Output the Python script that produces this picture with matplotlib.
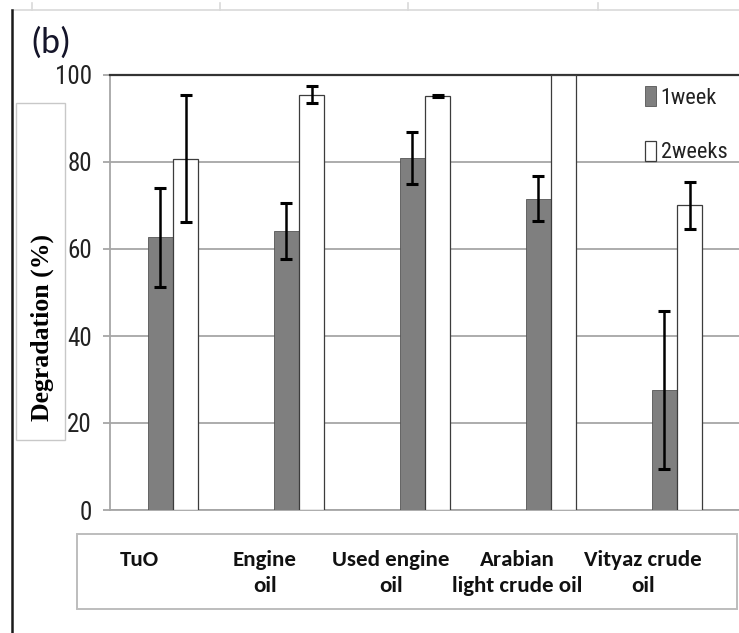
import numpy as np
import matplotlib.pyplot as plt
from matplotlib.patches import Rectangle
from matplotlib.lines import Line2D
import matplotlib.transforms as mtransforms

# degradation after 1 and 2 weeks, mean and error bar half-width (%)
oils = ['TuO', 'Engine\noil', 'Used engine\noil', 'Arabian\nlight crude oil', 'Vityaz crude\noil']
week1 = [62.7, 64.2, 81.0, 71.6, 27.6]
week1_err = [11.4, 6.4, 6.0, 5.2, 18.1]
week2 = [80.8, 95.5, 95.2, 100.0, 70.0]
week2_err = [14.5, 2.0, 0.3, 0.0, 5.5]
yticks = [0, 20, 40, 60, 80, 100]

narrow = ['Roboto Condensed', 'Liberation Sans']

W, H = 739, 633
fig = plt.figure(figsize=(W / 100, H / 100), dpi=100)

def px(x0, y0, w, h):
    # pixel box (top-left origin) -> figure fraction
    return [x0 / W, 1 - (y0 + h) / H, w / W, h / H]

ax = fig.add_axes(px(110, 75, 630, 435))

x = np.arange(len(oils))
bw = 0.2
ax.bar(x - bw / 2, week1, bw, color='#7f7f7f', edgecolor='#555555', linewidth=0.6,
       label='1week', zorder=3)
ax.bar(x + bw / 2, week2, bw, color='white', edgecolor='#3c3c3c', linewidth=0.9,
       label='2weeks', zorder=3)

# error bars only where a spread was measured
for xs, ys, es in [(x - bw / 2, week1, week1_err), (x + bw / 2, week2, week2_err)]:
    keep = np.array(es) > 0
    ax.errorbar(np.array(xs)[keep], np.array(ys)[keep], yerr=np.array(es)[keep],
                fmt='none', ecolor='black', elinewidth=1.8, capsize=4, capthick=2.2,
                zorder=4)

ax.set_xlim(-0.5, len(oils) - 0.5)
ax.set_ylim(0, 100)
ax.set_yticks(yticks)
ax.set_xticks([])
ax.yaxis.grid(True, color='#a6a6a6', linewidth=1.3, zorder=0)
ax.set_axisbelow(True)
ax.spines['right'].set_visible(False)
ax.spines['top'].set_color('#333333')
ax.spines['top'].set_linewidth(1.6)
for s in ['left', 'bottom']:
    ax.spines[s].set_color('#a6a6a6')
    ax.spines[s].set_linewidth(1.3)
ax.tick_params(axis='y', length=5, width=1.3, color='#a6a6a6', pad=8)
for lab in ax.get_yticklabels():
    lab.set_family(narrow)
    lab.set_fontsize(18)
    lab.set_color('#222222')

leg = ax.legend(loc='upper left', bbox_to_anchor=(645 / W, 1 - 86 / H),
                bbox_transform=fig.transFigure, frameon=False, borderpad=0,
                borderaxespad=0, handlelength=0.5, handleheight=1.0,
                handletextpad=0.2, labelspacing=1.45,
                prop={'family': narrow, 'size': 16})
for t in leg.get_texts():
    t.set_color('#222222')

# y label in its own box
fig.patches.append(Rectangle((16 / W, 1 - 440 / H), 49 / W, 337 / H,
                             transform=fig.transFigure, fill=False,
                             edgecolor='#c8c8c8', linewidth=1.0))
fig.text(42 / W, 1 - 328 / H, 'Degradation (%)', rotation=90, ha='center', va='center',
         family='Liberation Serif', fontweight='bold', fontsize=18.5)

# category names in a box under the plot
fig.patches.append(Rectangle((77 / W, 1 - 609 / H), 660 / W, 75 / H,
                             transform=fig.transFigure, fill=False,
                             edgecolor='#bdbdbd', linewidth=1.4))
trans = mtransforms.blended_transform_factory(ax.transData, fig.transFigure)
for i, name in enumerate(oils):
    ax.text(i - 0.27, 1 - 550 / H, name, transform=trans, ha='center', va='top',
            family='Carlito', fontweight='bold', fontsize=16.5,
            linespacing=1.35, color='#111111')

fig.text(30 / W, 1 - 43 / H, '(b)', ha='left', va='center', family='Carlito',
         fontsize=26, color='#15152a')

# page edges around the panel
fig.add_artist(Line2D([12 / W, 1], [1 - 10 / H, 1 - 10 / H], transform=fig.transFigure,
                      color='#d9d9d9', linewidth=1.2))
for tx in [32, 220, 408, 598]:
    fig.add_artist(Line2D([tx / W, tx / W], [1 - 3 / H, 1 - 10 / H],
                          transform=fig.transFigure, color='#d9d9d9', linewidth=1.2))
fig.add_artist(Line2D([12 / W, 12 / W], [0, 1 - 10 / H], transform=fig.transFigure,
                      color='#1a1a1a', linewidth=1.8))

fig.savefig('out.png', dpi=100)
